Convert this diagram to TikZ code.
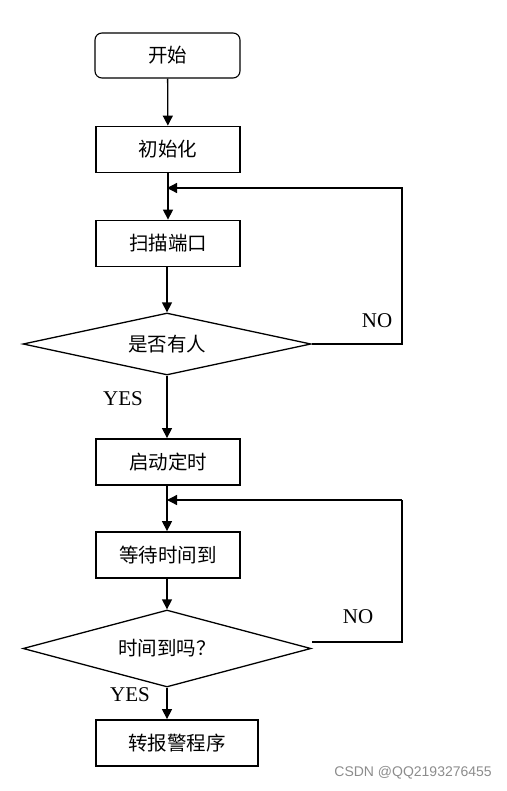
\documentclass[tikz,border=0pt]{standalone}
\usepackage{fontspec}
\setmainfont{Liberation Serif}
\newfontfamily\cjk{Noto Sans CJK SC}
\newfontfamily\wm{Liberation Sans}
\usetikzlibrary{arrows.meta,shapes.geometric}
\begin{document}
\begin{tikzpicture}[x=1pt,y=-1pt,
  every node/.style={inner sep=0pt},
  box/.style={draw,line width=1.8pt,minimum width=144pt,minimum height=46pt,font=\cjk\fontsize{19.5}{21}\selectfont},
  startbox/.style={draw,line width=1.1pt,rounded corners=7pt,minimum width=145pt,minimum height=45pt,font=\cjk\fontsize{19.5}{21}\selectfont},
  decide/.style={draw,line width=1.3pt,diamond,aspect=4.6,minimum width=288pt,minimum height=62pt,font=\cjk\fontsize{19.5}{21}\selectfont},
  lbl/.style={font=\fontsize{21}{23}\selectfont},
  conn/.style={line width=1.3pt,-{Triangle[length=10pt,width=10pt]}},
  seg/.style={line width=1.3pt}]
\useasboundingbox (0,0) rectangle (506,791);
\node[startbox] (s) at (167.5,55.5) {开始};
\node[box] (init) at (168,149.5) {初始化};
\node[box] (scan) at (168,243.5) {扫描端口};
\node[decide] (d1) at (167,344) {\raisebox{-3pt}{是否有人}};
\node[box] (timer) at (168,462) {启动定时};
\node[box] (wait) at (168,555) {等待时间到};
\node[decide,minimum height=77pt,aspect=3.74] (d2) at (167,648.5) {时间到吗？};
\node[box,minimum width=162pt] (alarm) at (177,743) {转报警程序};
\coordinate (j1) at (167,188);
\coordinate (r1a) at (402,344);
\coordinate (r1b) at (402,188);
\coordinate (j2) at (167,500);
\coordinate (r2a) at (402,642);
\coordinate (r2b) at (402,500);
\coordinate (d2e) at (312,642);
\draw[conn] (s) -- (init);
\draw[conn] (init) -- (scan);
\draw[conn] (scan.south -| 167,0) -- (d1.north);
\draw[conn] (d1.south) -- (timer.north -| 167,0);
\draw[conn] (timer.south -| 167,0) -- (wait.north -| 167,0);
\draw[conn] (wait.south -| 167,0) -- (d2.north);
\draw[conn] (d2.south) -- (alarm.north -| 167,0);
\draw[seg,line join=miter] (d1.east) -- (r1a) -- (r1b) -- (j1);
\draw[conn] (r1b) -- (j1);
\draw[seg,line join=miter] (d2e) -- (r2a) -- (r2b);
\draw[conn] (r2b) -- (j2);
\node[lbl] (no1) at (377,321) {NO};
\node[lbl] (yes1) at (123,399) {YES};
\node[lbl] (no2) at (358,617) {NO};
\node[lbl] (yes2) at (130,695) {YES};
\node[font=\wm\fontsize{14}{16}\selectfont,text=black!45,anchor=east] (wm) at (492,773) {CSDN @QQ2193276455};
\end{tikzpicture}
\end{document}
